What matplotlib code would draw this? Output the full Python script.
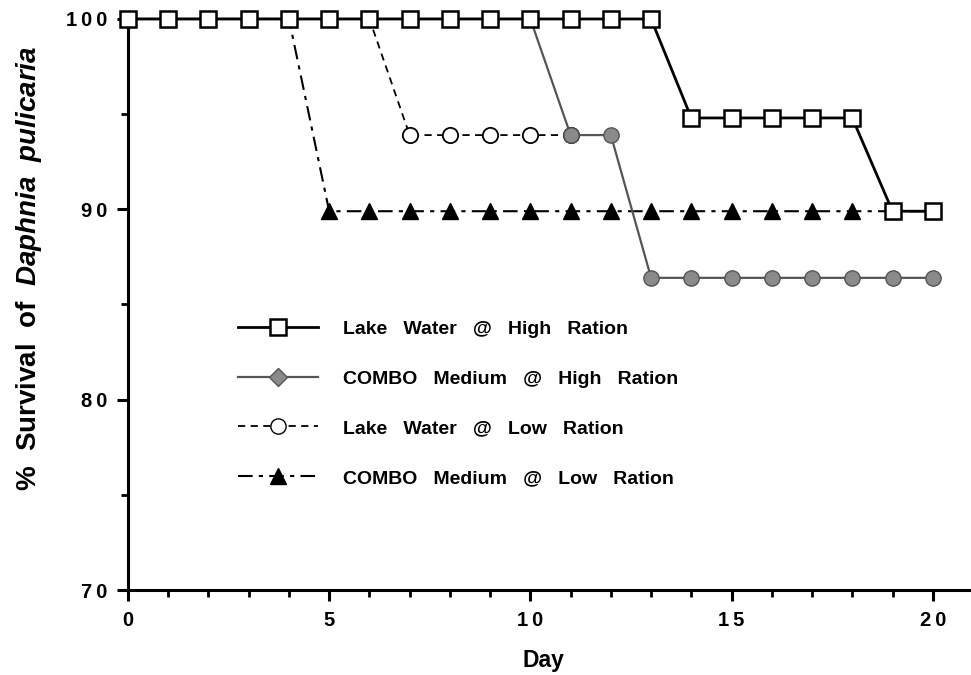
import matplotlib.pyplot as plt
from matplotlib.lines import Line2D
from matplotlib.ticker import MultipleLocator

plt.rcParams['font.family'] = ['Liberation Sans', 'DejaVu Sans']
plt.rcParams['mathtext.fontset'] = 'custom'
plt.rcParams['mathtext.it'] = 'Liberation Sans:bold:italic'
plt.rcParams['mathtext.rm'] = 'Liberation Sans:bold'

# survival (%), one value per day
lake_high_days = list(range(0, 21))
lake_high = [100] * 14 + [94.8] * 5 + [89.9] * 2

combo_high_days = list(range(0, 21))
combo_high = [100] * 11 + [93.9] * 2 + [86.4] * 8

lake_low_days = list(range(0, 12))
lake_low = [100] * 7 + [93.9] * 5

combo_low_days = list(range(0, 21))
combo_low = [100] * 5 + [89.9] * 16

labels = ['Lake   Water   @   High   Ration', 'COMBO   Medium   @   High   Ration',
          'Lake   Water   @   Low   Ration', 'COMBO   Medium   @   Low   Ration']
x_ticks = [0, 5, 10, 15, 20]
y_ticks = [70, 80, 90, 100]

gray = '#8a8a8a'

fig = plt.figure(figsize=(9.71, 6.75), dpi=100)
ax = fig.add_axes([0.1318, 0.1259, 0.8682, 0.846])

ax.plot(combo_low_days, combo_low, color='black', lw=1.5, dashes=(7, 3, 2, 3),
        marker='^', ms=11, mfc='black', mec='black', clip_on=False, zorder=3)
ax.plot(lake_low_days, lake_low, color='black', lw=1.3, dashes=(4, 3),
        marker='o', ms=11, mfc='white', mec='black', mew=1.3, clip_on=False, zorder=4)
ax.plot(combo_high_days, combo_high, color='#555555', lw=1.6,
        marker='o', ms=11, mfc=gray, mec='#555555', mew=1.0, clip_on=False, zorder=5)
ax.plot(lake_high_days, lake_high, color='black', lw=2.0,
        marker='s', ms=12, mfc='white', mec='black', mew=1.8, clip_on=False, zorder=6)

ax.set_xlim(0, 20.95)
ax.set_ylim(70, 100)

for s in ['top', 'right']:
    ax.spines[s].set_visible(False)
for s in ['left', 'bottom']:
    ax.spines[s].set_linewidth(2.2)

ax.xaxis.set_minor_locator(MultipleLocator(1))
ax.yaxis.set_minor_locator(MultipleLocator(5))
ax.set_xticks(x_ticks)
ax.set_yticks(y_ticks)
ax.set_xticklabels(['\u2009'.join(str(t)) for t in x_ticks])
ax.set_yticklabels(['\u2009'.join(str(t)) for t in y_ticks])
ax.tick_params(which='major', direction='out', length=8, width=2.2, labelsize=14.5, pad=7)
ax.tick_params(which='minor', direction='out', length=5, width=2.0)
for lbl in ax.get_xticklabels() + ax.get_yticklabels():
    lbl.set_fontweight('bold')

ax.set_xlabel('Day', fontsize=16.5, fontweight='bold')
ax.xaxis.set_label_coords(0.493, -0.104)
ax.set_ylabel(r'%  Survival  of  $Daphnia$  $pulicaria$', fontsize=20, fontweight='bold')
ax.yaxis.set_label_coords(-0.1, 0.564)

handles = [
    Line2D([], [], color='black', lw=2.0, marker='s', ms=12, mfc='white', mec='black', mew=1.8),
    Line2D([], [], color='#555555', lw=1.6, marker='D', ms=9, mfc=gray, mec='#555555'),
    Line2D([], [], color='black', lw=1.3, dashes=(4, 3), marker='o', ms=11, mfc='white', mec='black'),
    Line2D([], [], color='black', lw=1.5, dashes=(7, 3, 2, 3), marker='^', ms=11, mfc='black', mec='black'),
]
leg = ax.legend(handles, labels, loc='upper left', bbox_to_anchor=(0.11, 0.503),
                frameon=False, handlelength=4.1, handletextpad=1.3, labelspacing=1.65,
                prop={'size': 14, 'weight': 'bold'})

fig.savefig('out.png', dpi=100)
